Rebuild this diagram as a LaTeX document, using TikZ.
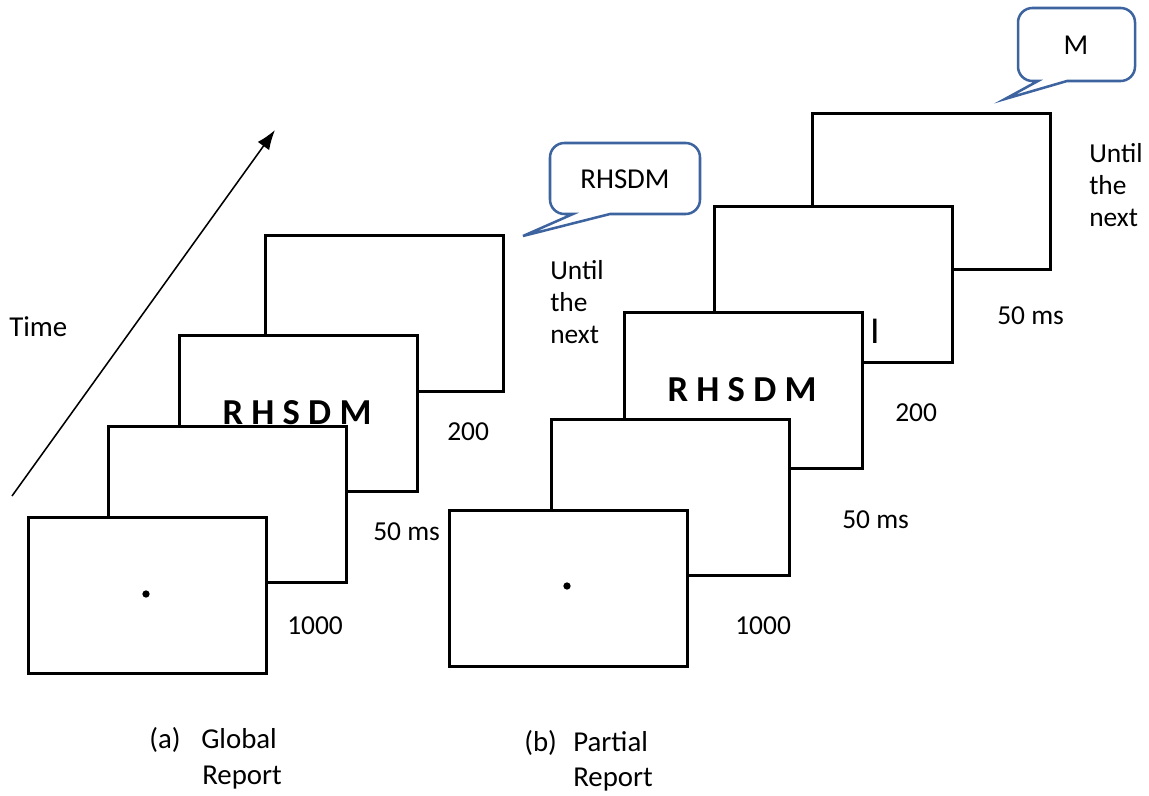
\documentclass[tikz,border=0pt]{standalone}
\usepackage{fontspec}
\setmainfont{Carlito}
\usetikzlibrary{arrows.meta}
\definecolor{bubbleblue}{RGB}{62,100,160}
\tikzset{
  screen/.style={draw, line width=2.1pt, fill=white, minimum width=5.95cm, minimum height=3.9cm, anchor=north west, inner sep=0pt},
  lbl/.style={font=\fontsize{19.5}{22.6}\selectfont, inner sep=0pt},
  biglbl/.style={font=\fontsize{20.5}{24}\selectfont, inner sep=0pt},
  letters/.style={font=\fontsize{26}{30}\selectfont\bfseries, inner sep=0pt, anchor=base},
  fixdot/.style={circle, fill, inner sep=0pt, minimum size=5.2pt},
  bubble/.style={draw=bubbleblue, line width=1.8pt, fill=white, line join=miter},
}
\begin{document}
\begin{tikzpicture}[x=0.025cm, y=-0.025cm, >={Latex[length=14pt,width=10pt]}]
    \useasboundingbox (0,0) rectangle (1149,795);

    % -- Axe du temps --
    \node[biglbl, anchor=west] (time) at (9,327) {Time};
    \coordinate (tstart) at (12,496);
    \coordinate (tend) at (275,130);
    \draw[->, line width=1.1pt] (tstart) -- (tend);

    % -- Panneau gauche : Global Report --
    \node[screen] (a4) at (264,234) {};
    \node[screen] (a3) at (178,334) {};
    \node[letters] (a3txt) at (297,424) {R H S D M};
    \node[screen] (a2) at (107,425) {};
    \node[screen] (a1) at (27,516) {};
    \node[fixdot] (afix) at (146,594) {};

    % Durées
    \node[lbl, anchor=west] (adur1) at (287,626) {1000};
    \node[lbl, anchor=west] (adur2) at (373,532) {50 ms};
    \node[lbl, anchor=west] (adur3) at (447,432) {200};
    \node[lbl, anchor=west, align=left] (adur4) at (550,302) {Until\\the\\next};

    % Bulle de réponse
    \draw[bubble] (610,214) -- (523,236) -- (573,214)
        {[rounded corners=0.36cm] -- (550,214) -- (550,143) -- (700,143) -- (700,214)} -- cycle;
    \node[biglbl] (aresp) at (625,179) {RHSDM};

    % -- Panneau droit : Partial Report --
    \node[screen] (b5) at (811,112) {};
    \node[screen] (b4) at (713,205) {};
    \node[font=\fontsize{27}{30}\selectfont, anchor=base, inner sep=0pt] (bcue) at (875,343) {I};
    \node[screen] (b3) at (623,311) {};
    \node[letters] (b3txt) at (742,401) {R H S D M};
    \node[screen] (b2) at (550,418) {};
    \node[screen] (b1) at (448,509) {};
    \node[fixdot] (bfix) at (567,586) {};

    % Durées
    \node[lbl, anchor=west] (bdur1) at (735,626) {1000};
    \node[lbl, anchor=west] (bdur2) at (842,520) {50 ms};
    \node[lbl, anchor=west] (bdur3) at (895,413) {200};
    \node[lbl, anchor=west] (bdur4) at (997,316) {50 ms};
    \node[lbl, anchor=west, align=left] (bdur5) at (1089,185) {Until\\the\\next};

    % Bulle de réponse
    \draw[bubble] (1067,81) -- (1005,99) -- (1038,81)
        {[rounded corners=0.36cm] -- (1018,81) -- (1018,8) -- (1135,8) -- (1135,81)} -- cycle;
    \node[biglbl] (bresp) at (1076,45) {M};

    % -- Légendes --
    \node[biglbl, anchor=base west] (capa) at (149,748) {(a)};
    \node[biglbl, anchor=base west] (capaone) at (201,748) {Global};
    \node[biglbl, anchor=base west] (capatwo) at (202,784) {Report};
    \node[biglbl, anchor=base west] (capb) at (524,751) {(b)};
    \node[biglbl, anchor=base west] (capbone) at (573,751) {Partial};
    \node[biglbl, anchor=base west] (capbtwo) at (573,786) {Report};
\end{tikzpicture}
\end{document}
